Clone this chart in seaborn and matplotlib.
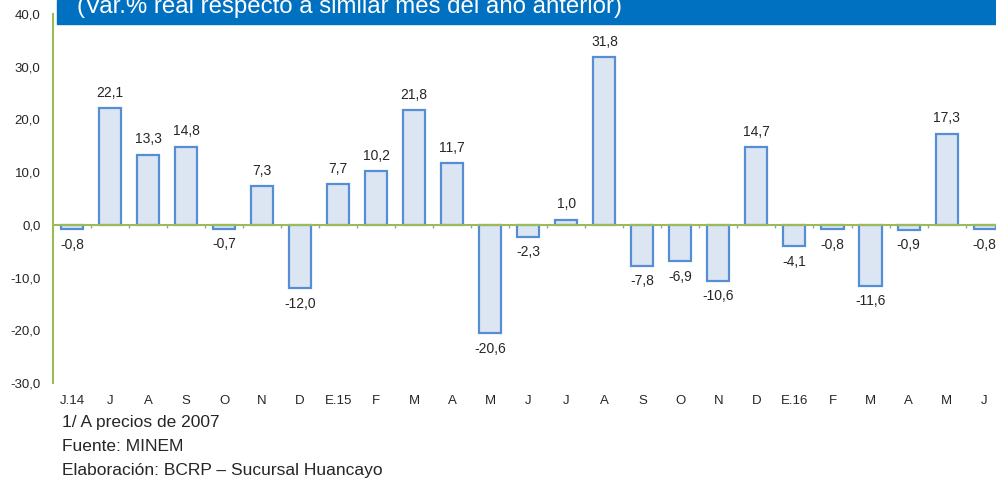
import matplotlib
matplotlib.use("Agg")
import matplotlib.pyplot as plt
import seaborn as sns
import pandas as pd

# Monthly growth (Var.% real), June 2014 - June 2016
months = ["J.14", "J", "A", "S", "O", "N", "D", "E.15", "F", "M", "A", "M", "J",
          "J", "A", "S", "O", "N", "D", "E.16", "F", "M", "A", "M", "J"]
values = [-0.8, 22.1, 13.3, 14.8, -0.7, 7.3, -12.0, 7.7, 10.2, 21.8, 11.7, -20.6, -2.3,
          1.0, 31.8, -7.8, -6.9, -10.6, 14.7, -4.1, -0.8, -11.6, -0.9, 17.3, -0.8]
y_ticks = [-30, -20, -10, 0, 10, 20, 30, 40]
notes = ["1/ A precios de 2007", "Fuente: MINEM", "Elaboración: BCRP – Sucursal Huancayo"]
title = "(Var.% real respecto a similar mes del año anterior)"

sns.set_style("white")
plt.rcParams["font.family"] = ["Liberation Sans", "DejaVu Sans"]

df = pd.DataFrame({"pos": range(len(values)), "val": values})

fig = plt.figure(figsize=(9.96, 4.83), dpi=100)
ax = fig.add_axes([53 / 996, 1 - 383 / 483, 1 - 53 / 996, (383 - 14) / 483])

sns.barplot(data=df, x="pos", y="val", ax=ax, color="#DCE6F2", saturation=1,
            width=0.58, edgecolor="#558ED5", linewidth=1.6)

ax.set_xlim(-0.5, 24.3)
ax.set_ylim(-30, 40)
ax.set_yticks(y_ticks)
ax.set_yticklabels([f"{t:.1f}".replace(".", ",") for t in y_ticks], fontsize=9.5)
ax.set_xticks(range(len(months)))
ax.set_xticklabels(months, fontsize=9.5)
ax.tick_params(axis="x", length=0, pad=9)
ax.tick_params(axis="y", length=3, color="#9BBB59", width=1.2, pad=6)
ax.set_xlabel("")
ax.set_ylabel("")

for s in ["top", "right", "bottom"]:
    ax.spines[s].set_visible(False)
ax.spines["left"].set_color("#9BBB59")
ax.spines["left"].set_linewidth(1.5)

# zero line with category separators
ax.axhline(0, color="#9BBB59", lw=1.5, zorder=3)
ax.vlines([k + 0.5 for k in range(len(values))], -0.6, 0, color="#A0A0A0", lw=1, zorder=3)

# value labels
for i, v in enumerate(values):
    txt = f"{v:.1f}".replace(".", ",")
    if v >= 0:
        ax.text(i, v + 1.6, txt, ha="center", va="bottom", fontsize=10)
    else:
        ax.text(i, v - 1.6, txt, ha="center", va="top", fontsize=10)

# title banner (cut at top)
fig.patches.append(plt.Rectangle((57 / 996, 1 - 24 / 483), 1, 24 / 483,
                                 transform=fig.transFigure, color="#0070C0", zorder=0))
fig.text(77 / 996, 1 - 13 / 483, title, color="white", fontsize=17.3,
         ha="left", va="baseline")

# footnotes
for k, note in enumerate(notes):
    fig.text(62 / 996, 1 - (423 + 23.5 * k) / 483, note, fontsize=12.5,
             family=["Liberation Sans Narrow", "Liberation Sans"], va="center")

fig.savefig("out.png", dpi=100)
